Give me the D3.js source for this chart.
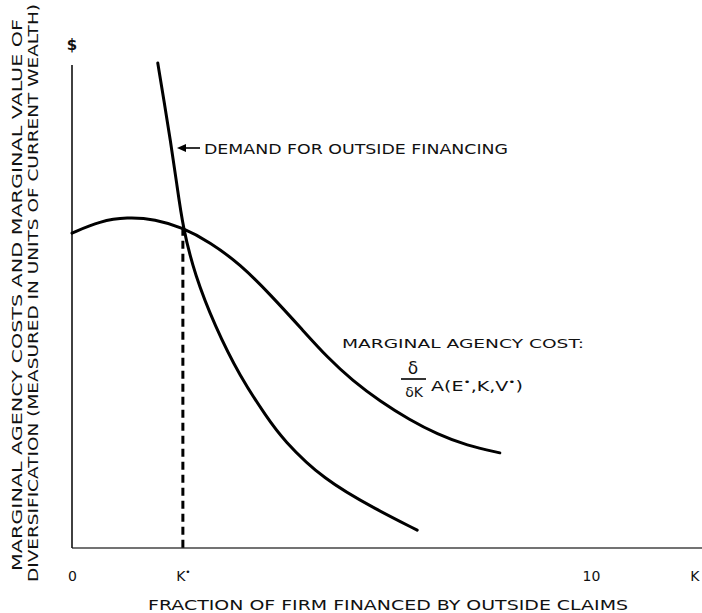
<!DOCTYPE html>
<html>
<head>
<meta charset="utf-8">
<script src="https://cdn.jsdelivr.net/npm/d3@7"></script>
<style>
  html, body { margin: 0; padding: 0; background: #fff; }
  svg text { font-family: "DejaVu Sans", "Liberation Sans", sans-serif; fill: #111; }
</style>
</head>
<body>
<svg id="chart" width="702" height="613"></svg>
<script>
// ---- data (x: fraction financed by outside claims, y: marginal value in arbitrary units) ----
const agencyX = [0.0, 0.054, 0.105, 0.159, 0.212, 0.264, 0.321, 0.379, 0.442, 0.488, 0.537, 0.589, 0.646, 0.698, 0.755, 0.818];
const agencyY = [6.52, 6.77, 6.85, 6.81, 6.63, 6.33, 5.88, 5.25, 4.50, 3.95, 3.46, 3.04, 2.65, 2.36, 2.12, 1.97];
const demandX = [0.164, 0.176, 0.188, 0.200, 0.212, 0.235, 0.273, 0.321, 0.373, 0.403, 0.480, 0.583, 0.660];
const demandY = [10.04, 9.25, 8.45, 7.57, 6.63, 5.65, 4.60, 3.55, 2.70, 2.25, 1.42, 0.79, 0.37];
const kStar = 0.212;
const kStarValue = 6.63;
const tickValues = [0, 0.212, 1.0, 1.19];
const tickLabels = ["0", "K", "10", "K"];

const svg = d3.select("#chart");
const x = d3.scaleLinear().domain([0, 1.0]).range([72, 595]);
const y = d3.scaleLinear().domain([0, 10]).range([548, 65]);

// axes
const xAxis = d3.axisBottom(x)
  .tickValues(tickValues)
  .tickSize(0).tickSizeOuter(0).tickPadding(23)
  .tickFormat((d, i) => tickLabels[i]);
const gx = svg.append("g").attr("transform", `translate(0,${y(0)})`).call(xAxis);
gx.select(".domain").attr("d", `M${x(0)},0H702`).attr("stroke", "#444").attr("stroke-width", 1.4);
gx.selectAll(".tick text").attr("font-size", 14).attr("fill", "#111").attr("font-family", "DejaVu Sans, sans-serif");
gx.selectAll(".tick").filter((d, i) => i === 1).select("text")
  .append("tspan").attr("font-size", 9).attr("dy", -6).text("•");
gx.selectAll(".tick").filter((d, i) => i === 2).select("text").attr("dx", -4);

const yAxis = d3.axisLeft(y).tickValues([]).tickSizeOuter(0);
const gy = svg.append("g").attr("transform", `translate(${x(0)},0)`).call(yAxis);
gy.select(".domain").attr("d", `M0,${y(10)}V${y(0)}`).attr("stroke", "#111").attr("stroke-width", 1.6);

// curves
const line = d3.line().x(d => x(d[0])).y(d => y(d[1])).curve(d3.curveBasis);
svg.append("path")
  .datum(agencyX.map((v, i) => [v, agencyY[i]]))
  .attr("d", line).attr("fill", "none").attr("stroke", "#000")
  .attr("stroke-width", 3).attr("stroke-linecap", "round");
svg.append("path")
  .datum(demandX.map((v, i) => [v, demandY[i]]))
  .attr("d", line).attr("fill", "none").attr("stroke", "#000")
  .attr("stroke-width", 3).attr("stroke-linecap", "round");

// dashed K* line
svg.append("line")
  .attr("x1", x(kStar)).attr("x2", x(kStar))
  .attr("y1", y(kStarValue)).attr("y2", y(0))
  .attr("stroke", "#000").attr("stroke-width", 3)
  .attr("stroke-dasharray", "8,5");

// "$" label
svg.append("text").attr("x", x(0)).attr("y", 50).attr("text-anchor", "middle")
  .attr("font-size", 15).attr("font-weight", "bold").text("$");

// y-axis title (two rotated lines)
const yt = svg.append("g").attr("transform", "rotate(-90)");
yt.append("text").attr("x", -295).attr("y", 22).attr("text-anchor", "middle")
  .attr("font-size", 13.5).attr("textLength", 552).attr("lengthAdjust", "spacingAndGlyphs")
  .text("MARGINAL AGENCY COSTS AND MARGINAL VALUE OF");
yt.append("text").attr("x", -293).attr("y", 38).attr("text-anchor", "middle")
  .attr("font-size", 13.5).attr("textLength", 578).attr("lengthAdjust", "spacingAndGlyphs")
  .text("DIVERSIFICATION (MEASURED IN UNITS OF CURRENT WEALTH)");

// x-axis title
svg.append("text").attr("x", 388).attr("y", 610).attr("text-anchor", "middle")
  .attr("font-size", 14).attr("textLength", 480).attr("lengthAdjust", "spacingAndGlyphs")
  .text("FRACTION OF FIRM FINANCED BY OUTSIDE CLAIMS");

// demand annotation with arrow
svg.append("line").attr("x1", 180).attr("x2", 200).attr("y1", 148).attr("y2", 148)
  .attr("stroke", "#000").attr("stroke-width", 1.6);
svg.append("path").attr("d", "M177,148 L186,144 L186,152 Z").attr("fill", "#000");
svg.append("text").attr("x", 204).attr("y", 154)
  .attr("font-size", 14).attr("textLength", 304).attr("lengthAdjust", "spacingAndGlyphs")
  .text("DEMAND FOR OUTSIDE FINANCING");

// marginal agency cost annotation
svg.append("text").attr("x", 342).attr("y", 348)
  .attr("font-size", 13).attr("textLength", 242).attr("lengthAdjust", "spacingAndGlyphs")
  .text("MARGINAL AGENCY COST:");
svg.append("text").attr("x", 413).attr("y", 374).attr("text-anchor", "middle")
  .attr("font-size", 17).text("δ");
svg.append("line").attr("x1", 401).attr("x2", 426).attr("y1", 379).attr("y2", 379)
  .attr("stroke", "#000").attr("stroke-width", 1.6);
svg.append("text").attr("x", 414).attr("y", 397).attr("text-anchor", "middle")
  .attr("font-size", 14).text("δK");
const ft = svg.append("text").attr("x", 431).attr("y", 391).attr("font-size", 14)
  .attr("textLength", 92).attr("lengthAdjust", "spacingAndGlyphs");
ft.append("tspan").text("A(E");
ft.append("tspan").attr("font-size", 9).attr("dy", -6).text("•");
ft.append("tspan").attr("dy", 6).text(",K,V");
ft.append("tspan").attr("font-size", 9).attr("dy", -6).text("•");
ft.append("tspan").attr("dy", 6).text(")");
</script>
</body>
</html>
